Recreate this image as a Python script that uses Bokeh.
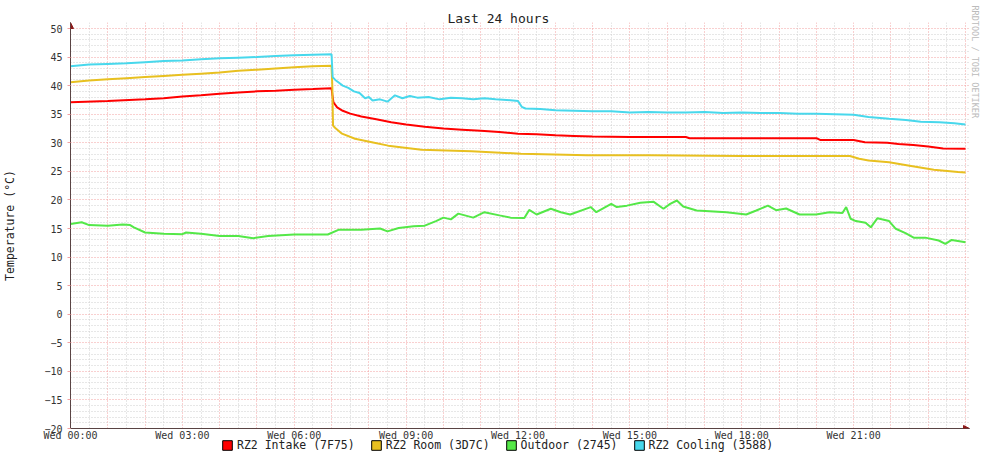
from bokeh.plotting import figure
from bokeh.layouts import column
from bokeh.models import (Range1d, FixedTicker, Legend, LegendItem, Title, Arrow, NormalHead)
from bokeh.embed import file_html
from bokeh.resources import INLINE

# ---------------- data ----------------
title_text = "Last 24 hours"
y_label = "Temperature (°C)"
watermark = "RRDTOOL / TOBI OETIKER"

x_tick_hours = [0, 3, 6, 9, 12, 15, 18, 21]
x_tick_labels = ["Wed 00:00", "Wed 03:00", "Wed 06:00", "Wed 09:00",
                 "Wed 12:00", "Wed 15:00", "Wed 18:00", "Wed 21:00"]
y_ticks = list(range(-20, 51, 5))

series_names = ["RZ2 Intake (7F75)", "RZ2 Room (3D7C)", "Outdoor (2745)", "RZ2 Cooling (3588)"]
series_colors = ["#FF0000", "#E8C020", "#54E848", "#48D8EC"]

intake_h = [0, 1, 2, 2.5, 3, 3.5, 4, 4.5, 5, 5.5, 6, 6.5, 7.0, 7.02, 7.05, 7.15, 7.3, 7.5,
            7.8, 8.2, 8.6, 9, 9.5, 10, 10.5, 11, 11.5, 12, 12.5, 13, 13.5, 14, 15, 16, 16.5,
            16.6, 20, 20.1, 21, 21.3, 21.9, 22.2, 22.6, 23, 23.4, 24]
intake_v = [37.1, 37.3, 37.6, 37.8, 38.1, 38.3, 38.6, 38.8, 39.0, 39.1, 39.3, 39.4, 39.55,
            38.5, 37.1, 36.2, 35.6, 35.1, 34.6, 34.1, 33.6, 33.2, 32.8, 32.5, 32.3, 32.1,
            31.9, 31.6, 31.5, 31.3, 31.2, 31.1, 31.0, 31.0, 31.0, 30.8, 30.8, 30.5, 30.5,
            30.1, 30.0, 29.8, 29.6, 29.35, 29.0, 28.95]

room_h = [0, 0.5, 1, 1.5, 2, 2.5, 3, 3.5, 4, 4.5, 5, 5.5, 6, 6.5, 7.0, 7.02, 7.04, 7.1,
          7.28, 7.63, 8.08, 8.52, 9.41, 10.75, 12.08, 13.86, 15.55, 18, 20.9, 21.15, 21.4,
          21.95, 22.5, 23.15, 23.8, 24]
room_v = [40.6, 40.9, 41.1, 41.3, 41.5, 41.7, 41.9, 42.1, 42.3, 42.6, 42.8, 43.0, 43.2,
          43.4, 43.5, 40.0, 33.0, 32.6, 31.6, 30.7, 30.1, 29.5, 28.8, 28.5, 28.1, 27.8,
          27.8, 27.7, 27.7, 27.2, 26.9, 26.6, 26.0, 25.3, 24.9, 24.8]

outdoor_h = [0, 0.3, 0.5, 1, 1.4, 1.6, 1.7, 2, 2.5, 3, 3.1, 3.5, 4, 4.5, 4.9, 5.3, 6, 6.9,
             7.2, 7.8, 8.3, 8.5, 8.8, 9.2, 9.5, 9.8, 10, 10.2, 10.4, 10.8, 11.1, 11.5, 11.8,
             12.17, 12.3, 12.5, 12.88, 13.15, 13.4, 13.95, 14.1, 14.5, 14.65, 14.92, 15.28,
             15.63, 15.9, 16.08, 16.26, 16.43, 16.79, 17.59, 18.12, 18.39, 18.7, 18.92,
             19.19, 19.55, 19.99, 20.35, 20.7, 20.8, 20.92, 21.06, 21.32, 21.46, 21.64,
             21.95, 22.13, 22.39, 22.61, 22.92, 23.28, 23.46, 23.63, 24]
outdoor_v = [15.8, 16.1, 15.6, 15.5, 15.7, 15.6, 15.2, 14.3, 14.1, 14.0, 14.3, 14.1, 13.7,
             13.7, 13.3, 13.7, 13.95, 13.95, 14.8, 14.8, 15.0, 14.5, 15.1, 15.4, 15.5, 16.3,
             16.9, 16.6, 17.6, 16.9, 17.85, 17.3, 16.9, 16.85, 18.25, 17.45, 18.45, 17.85,
             17.45, 18.75, 17.85, 19.3, 18.75, 19.0, 19.5, 19.7, 18.45, 19.3, 19.9, 18.85,
             18.15, 17.85, 17.45, 18.15, 19.0, 18.2, 18.5, 17.45, 17.45, 17.85, 17.7, 18.75,
             16.7, 16.3, 16.0, 15.2, 16.8, 16.3, 14.95, 14.2, 13.4, 13.4, 12.9, 12.3, 13.0,
             12.6]

cooling_h = [0, 0.5, 1, 1.5, 2, 2.5, 3, 3.5, 4, 4.5, 5, 5.5, 6, 6.5, 7.0, 7.03, 7.1, 7.2,
             7.3, 7.45, 7.6, 7.75, 7.9, 8.0, 8.1, 8.3, 8.5, 8.7, 8.9, 9.1, 9.3, 9.6, 9.9,
             10.2, 10.5, 10.8, 11.1, 11.4, 11.7, 12.0, 12.1, 12.2, 12.6, 13.0, 13.5, 14,
             14.5, 15, 15.5, 16, 16.5, 17, 17.5, 18, 18.5, 19, 19.5, 20, 20.5, 21, 21.4,
             21.95, 22.4, 22.8, 23.3, 23.7, 24]
cooling_v = [43.4, 43.7, 43.8, 43.9, 44.1, 44.3, 44.4, 44.6, 44.8, 44.9, 45.0, 45.2, 45.3,
             45.4, 45.5, 41.5, 41.0, 40.5, 40.0, 39.6, 39.0, 38.7, 37.8, 38.0, 37.4, 37.6,
             37.2, 38.3, 37.8, 38.2, 37.9, 38.0, 37.6, 37.9, 37.8, 37.6, 37.8, 37.6, 37.5,
             37.3, 36.3, 36.0, 35.9, 35.7, 35.6, 35.5, 35.5, 35.3, 35.4, 35.3, 35.3, 35.4,
             35.2, 35.3, 35.2, 35.2, 35.1, 35.1, 35.0, 34.9, 34.5, 34.2, 34.0, 33.7, 33.6,
             33.4, 33.2]

X_MIN, X_MAX = 0, 24
Y_MIN, Y_MAX = -20, 50
X_EXT, Y_EXT = 0.107, 1.05   # room for the axis arrow heads
NAN = float("nan")

# ---------------- main figure ----------------
MONO = "DejaVu Sans Mono"
AXIS_COLOR = "#5A4444"
ARROW_COLOR = "#8B1A1A"

p = figure(width=981, height=443, output_backend="svg", toolbar_location=None,
           x_range=Range1d(X_MIN, X_MAX + X_EXT), y_range=Range1d(Y_MIN, Y_MAX + Y_EXT),
           min_border_left=67, min_border_right=10, min_border_top=22, min_border_bottom=12,
           background_fill_color="white", border_fill_color="white")
p.outline_line_color = None

p.title.text = title_text
p.title.align = "left"
p.title.offset = 377
p.title.standoff = -7
p.title.text_font = MONO
p.title.text_font_size = "13px"
p.title.text_font_style = "normal"
p.title.text_color = "#222222"

# axes
p.xaxis.ticker = FixedTicker(ticks=x_tick_hours)
p.xaxis.major_label_overrides = {h: l for h, l in zip(x_tick_hours, x_tick_labels)}
p.yaxis.ticker = FixedTicker(ticks=y_ticks, minor_ticks=[v for v in range(Y_MIN, Y_MAX + 1) if v % 5])
for ax in (p.xaxis[0], p.yaxis[0]):
    ax.axis_line_color = AXIS_COLOR
    ax.axis_line_width = 1
    ax.minor_tick_line_color = None
    ax.major_tick_in = 0
    ax.major_label_text_font = MONO
    ax.major_label_text_font_size = "10px"
    ax.major_label_text_color = "#333333"
p.xaxis.major_tick_line_color = None
p.xaxis.major_tick_out = 0
p.xaxis.major_label_standoff = 1
p.yaxis.major_tick_out = 3
p.yaxis.major_tick_line_color = "#F2A0A0"
p.yaxis.major_label_standoff = 4
p.yaxis.axis_label = y_label
p.yaxis.axis_label_text_font = MONO
p.yaxis.axis_label_text_font_size = "11.5px"
p.yaxis.axis_label_text_font_style = "normal"
p.yaxis.axis_label_text_color = "#222222"
p.yaxis.axis_label_standoff = 24

# grids
p.xgrid.ticker = FixedTicker(ticks=list(range(X_MIN, X_MAX + 1)),
                             minor_ticks=[h + 0.5 for h in range(X_MIN, X_MAX)])
for g in (p.xgrid[0], p.ygrid[0]):
    g.grid_line_color = "#F2A0A0"
    g.grid_line_dash = "1 2"
    g.grid_line_width = 1
    g.minor_grid_line_color = "#CFCFCF"
    g.minor_grid_line_dash = "1 2"
    g.minor_grid_line_width = 1

# series
data = [(intake_h, intake_v), (room_h, room_v), (outdoor_h, outdoor_v), (cooling_h, cooling_v)]
for (hx, vy), col in zip(data, series_colors):
    p.line(hx, vy, line_color=col, line_width=2)

# axis arrows
p.add_layout(Arrow(end=NormalHead(size=6, fill_color=ARROW_COLOR, line_color=ARROW_COLOR),
                   x_start=X_MIN, y_start=Y_MAX, x_end=X_MIN, y_end=Y_MAX + Y_EXT,
                   line_color=AXIS_COLOR, line_width=1))
p.add_layout(Arrow(end=NormalHead(size=6, fill_color=ARROW_COLOR, line_color=ARROW_COLOR),
                   x_start=X_MAX, y_start=Y_MIN, x_end=X_MAX + X_EXT, y_end=Y_MIN,
                   line_color=AXIS_COLOR, line_width=1))

# watermark on the right side
p.add_layout(Title(text=watermark, align="left", offset=-17, standoff=0,
                   text_font=MONO, text_font_size="8.5px", text_font_style="normal",
                   text_color="#BBBBBB"), "right")

# ---------------- legend strip ----------------
lf = figure(width=981, height=14, output_backend="svg", toolbar_location=None,
            min_border=0, x_range=Range1d(0, 1), y_range=Range1d(0, 1),
            x_axis_location=None, y_axis_location=None,
            background_fill_color=None, border_fill_color=None)
lf.margin = (-5, 0, 0, 0)
lf.outline_line_color = None
lf.grid.visible = False
items = []
for name, col in zip(series_names, series_colors):
    r = lf.quad(left=[NAN], right=[NAN], top=[NAN], bottom=[NAN],
                fill_color=col, line_color="black", line_width=1)
    items.append(LegendItem(label=name, renderers=[r]))
legend = Legend(items=items, orientation="horizontal", location=(151, 0),
                label_text_font=MONO, label_text_font_size="11.5px", label_text_color="#222222",
                glyph_width=12, glyph_height=12, label_height=12, label_standoff=4, spacing=15,
                padding=0, margin=0, border_line_color=None, background_fill_color=None)
lf.add_layout(legend, "center")

layout = column(p, lf, spacing=0)
open("out.html", "w").write(file_html(layout, INLINE))
